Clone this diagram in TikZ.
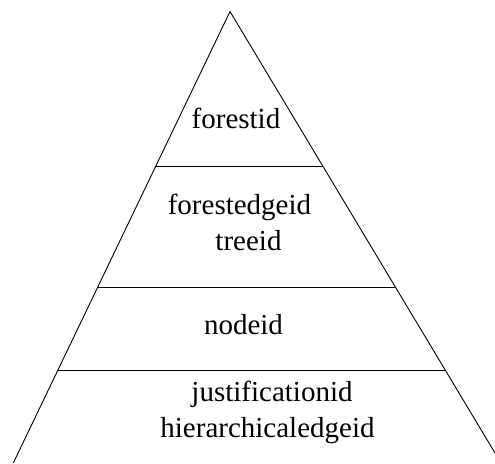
\documentclass[tikz,border=0pt]{standalone}
\usepackage{fontspec}
\setmainfont{Liberation Serif}
\usetikzlibrary{calc}
\begin{document}
\begin{tikzpicture}[x=1pt,y=1pt,
  edge/.style={line width=0.9pt,black},
  label/.style={inner sep=0pt,anchor=base,font=\fontsize{29}{35}\selectfont}]
  \useasboundingbox (0,0) rectangle (495,463);
  \clip (0,0) rectangle (495,463);
  % outline of the pyramid
  \coordinate (apex) at (230,451.5);
  \coordinate (bl) at (13.3,0);
  \coordinate (br) at (501,0);
  \draw[edge] (bl) -- (apex) -- (br);
  % layer separators
  \coordinate (l1) at ($(apex)!0.3433!(bl)$);
  \coordinate (r1) at ($(apex)!0.3433!(br)$);
  \coordinate (l2) at ($(apex)!0.6102!(bl)$);
  \coordinate (r2) at ($(apex)!0.6102!(br)$);
  \coordinate (l3) at ($(apex)!0.7951!(bl)$);
  \coordinate (r3) at ($(apex)!0.7951!(br)$);
  \draw[edge] (l1) -- (r1);
  \draw[edge] (l2) -- (r2);
  \draw[edge] (l3) -- (r3);
  % layer labels
  \node[label] (forest) at (236,334) {forestid};
  \node[label] (fedge) at (239.5,248) {forestedgeid};
  \node[label] (tree) at (248.5,212.3) {treeid};
  \node[label] (node) at (243.5,128) {nodeid};
  \node[label] (just) at (272,61) {justificationid};
  \node[label] (hedge) at (267.5,25) {hierarchicaledgeid};
\end{tikzpicture}
\end{document}
